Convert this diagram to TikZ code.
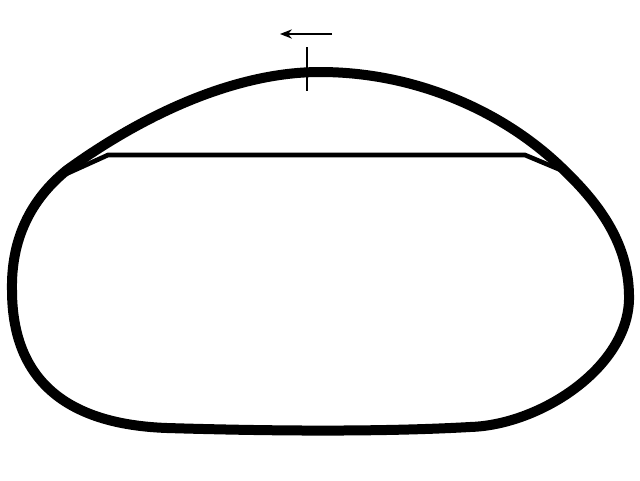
\documentclass[tikz,border=0pt]{standalone}
\usetikzlibrary{arrows.meta}
\begin{document}
\begin{tikzpicture}[x=0.75pt,y=-0.75pt,
  track/.style={line width=7.5pt,line join=round},
  chord/.style={line width=3.5pt,line join=miter},
  startline/.style={line width=2.2pt},
  dirarrow/.style={line width=1pt,-{Stealth[length=9pt,width=7pt]}}]
\useasboundingbox (0,0) rectangle (640,480);
\coordinate (jl) at (67,170);
\coordinate (top) at (320,72);
\coordinate (jr) at (567,173);
\coordinate (er) at (629,300);
\coordinate (br) at (470,427);
\coordinate (bl) at (167,428);
\coordinate (el) at (12,290);
\draw[track] (jl) .. controls (150,110) and (240,72) .. (top)
  .. controls (420,72) and (510,115) .. (jr)
  .. controls (605,210) and (630,250) .. (er)
  .. controls (627,368) and (540,425) .. (br)
  .. controls (400,431) and (300,432) .. (bl)
  .. controls (55,424) and (12,370) .. (el)
  .. controls (11,240) and (30,200) .. (jl) -- cycle;
\coordinate (cl) at (66,174);
\coordinate (l1) at (108,155);
\coordinate (r1) at (525,155);
\coordinate (cr) at (568,173);
\draw[chord] (cl) -- (l1) -- (r1) -- (cr);
\coordinate (s1) at (307,47);
\coordinate (s2) at (307,91);
\draw[startline] (s1) -- (s2);
\coordinate (a1) at (332,34);
\coordinate (a2) at (280,34);
\draw[dirarrow] (a1) -- (a2);
\end{tikzpicture}
\end{document}
